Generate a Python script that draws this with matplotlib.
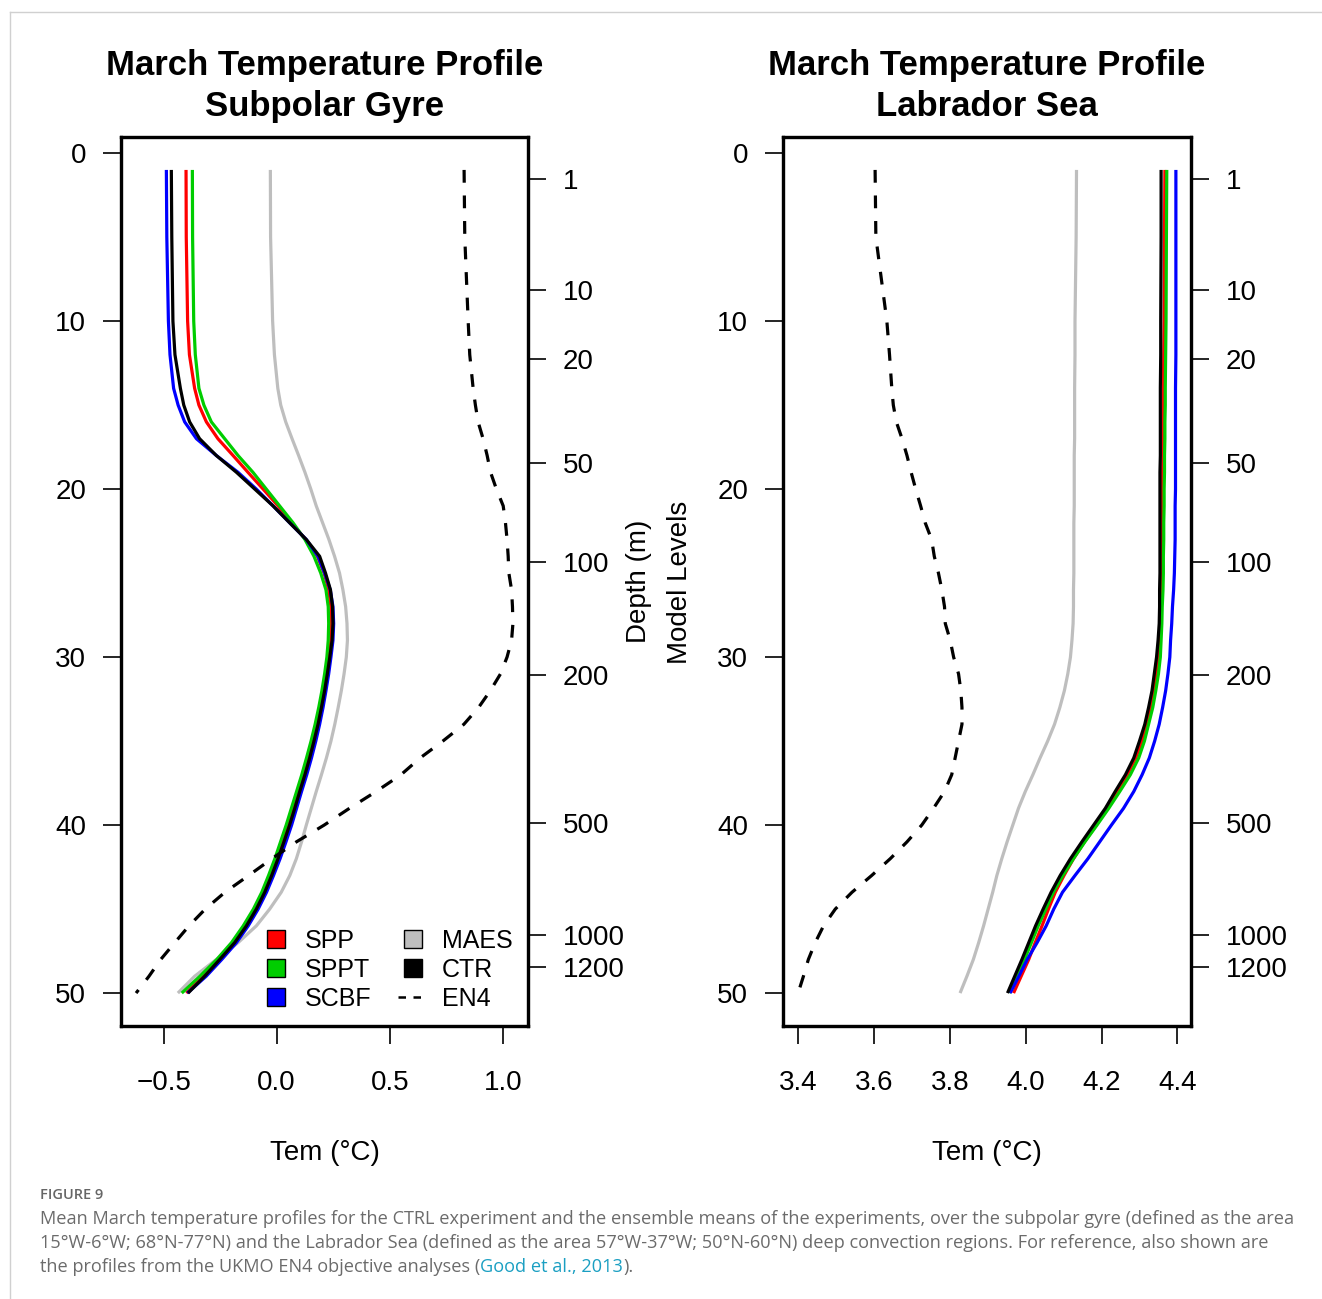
import matplotlib
matplotlib.use('Agg')
import matplotlib.pyplot as plt
from matplotlib.lines import Line2D

plt.rcParams['font.family'] = ['Liberation Sans', 'DejaVu Sans']

# model levels at which the profiles were read
levels = [1, 5, 10, 12, 14, 15, 16, 17, 18, 19, 20, 21, 22, 23, 24, 25, 26, 27, 28, 29,
          30, 31, 32, 33, 34, 35, 36, 37, 38, 39, 40, 41, 42, 43, 44, 45, 46, 47, 48, 49, 50]

# Subpolar gyre (deg C)
spg_spp = [-0.401, -0.400, -0.394, -0.386, -0.363, -0.344, -0.311, -0.260, -0.193, -0.127,
           -0.060, 0.006, 0.065, 0.128, 0.180, 0.210, 0.230, 0.240, 0.243, 0.240,
           0.232, 0.221, 0.208, 0.194, 0.178, 0.160, 0.140, 0.119, 0.096, 0.073,
           0.050, 0.025, 0.000, -0.028, -0.058, -0.095, -0.140, -0.192, -0.258, -0.325, -0.400]
spg_sppt = [-0.373, -0.372, -0.367, -0.360, -0.344, -0.322, -0.289, -0.230, -0.171, -0.105,
            -0.046, 0.013, 0.072, 0.125, 0.165, 0.195, 0.218, 0.228, 0.230, 0.228,
            0.222, 0.212, 0.200, 0.186, 0.170, 0.152, 0.132, 0.111, 0.088, 0.065,
            0.042, 0.017, -0.008, -0.036, -0.066, -0.103, -0.148, -0.200, -0.265, -0.340, -0.420]
spg_scbf = [-0.488, -0.486, -0.479, -0.472, -0.456, -0.436, -0.407, -0.355, -0.267, -0.171,
            -0.090, -0.016, 0.057, 0.131, 0.183, 0.212, 0.237, 0.249, 0.252, 0.249,
            0.240, 0.230, 0.218, 0.205, 0.190, 0.173, 0.154, 0.133, 0.110, 0.088,
            0.066, 0.041, 0.015, -0.014, -0.045, -0.082, -0.126, -0.178, -0.243, -0.312, -0.395]
spg_maes = [-0.028, -0.027, -0.018, -0.010, 0.005, 0.018, 0.040, 0.068, 0.097, 0.125,
            0.151, 0.175, 0.203, 0.231, 0.256, 0.278, 0.293, 0.305, 0.311, 0.313,
            0.308, 0.298, 0.286, 0.272, 0.257, 0.240, 0.220, 0.198, 0.175, 0.153,
            0.131, 0.110, 0.087, 0.058, 0.020, -0.031, -0.090, -0.171, -0.267, -0.363, -0.437]
spg_ctr = [-0.466, -0.464, -0.459, -0.450, -0.426, -0.411, -0.385, -0.341, -0.267, -0.178,
           -0.097, -0.016, 0.057, 0.131, 0.190, 0.216, 0.238, 0.247, 0.249, 0.245,
           0.235, 0.224, 0.212, 0.198, 0.183, 0.165, 0.146, 0.125, 0.102, 0.080,
           0.057, 0.032, 0.006, -0.022, -0.053, -0.090, -0.134, -0.186, -0.252, -0.319, -0.392]
spg_en4 = [0.829, 0.832, 0.847, 0.854, 0.869, 0.879, 0.891, 0.913, 0.931, 0.946,
           0.972, 1.002, 1.012, 1.019, 1.024, 1.027, 1.039, 1.043, 1.045, 1.039,
           1.019, 0.990, 0.945, 0.893, 0.828, 0.735, 0.635, 0.550, 0.440, 0.322,
           0.210, 0.087, -0.021, -0.124, -0.229, -0.316, -0.388, -0.451, -0.513, -0.565, -0.622]

# Labrador Sea (deg C)
lab_spp = [4.367, 4.366, 4.365, 4.364, 4.363, 4.363, 4.362, 4.362, 4.362, 4.361,
           4.361, 4.361, 4.360, 4.360, 4.360, 4.359, 4.358, 4.357, 4.356, 4.353,
           4.350, 4.345, 4.338, 4.330, 4.320, 4.307, 4.290, 4.268, 4.241, 4.215,
           4.186, 4.155, 4.126, 4.101, 4.078, 4.060, 4.043, 4.025, 4.008, 3.988, 3.968]
lab_sppt = [4.372, 4.371, 4.370, 4.369, 4.368, 4.368, 4.367, 4.367, 4.366, 4.366,
            4.365, 4.365, 4.364, 4.364, 4.363, 4.363, 4.362, 4.360, 4.359, 4.357,
            4.355, 4.350, 4.343, 4.335, 4.324, 4.313, 4.298, 4.276, 4.248, 4.219,
            4.188, 4.156, 4.126, 4.098, 4.073, 4.053, 4.033, 4.015, 3.997, 3.977, 3.957]
lab_scbf = [4.396, 4.396, 4.396, 4.396, 4.395, 4.395, 4.395, 4.395, 4.395, 4.395,
            4.395, 4.394, 4.394, 4.394, 4.393, 4.392, 4.390, 4.387, 4.385, 4.382,
            4.380, 4.375, 4.369, 4.361, 4.352, 4.340, 4.326, 4.307, 4.285, 4.258,
            4.226, 4.195, 4.164, 4.130, 4.097, 4.074, 4.054, 4.030, 4.004, 3.982, 3.959]
lab_maes = [4.134, 4.133, 4.130, 4.130, 4.129, 4.129, 4.129, 4.129, 4.128, 4.128,
            4.128, 4.128, 4.127, 4.127, 4.127, 4.127, 4.126, 4.126, 4.125, 4.122,
            4.118, 4.111, 4.102, 4.090, 4.076, 4.058, 4.038, 4.019, 3.999, 3.981,
            3.966, 3.951, 3.937, 3.924, 3.913, 3.901, 3.889, 3.876, 3.862, 3.845, 3.827]
lab_ctr = [4.357, 4.357, 4.356, 4.356, 4.355, 4.355, 4.355, 4.355, 4.355, 4.354,
           4.354, 4.354, 4.354, 4.354, 4.354, 4.354, 4.353, 4.353, 4.352, 4.349,
           4.345, 4.339, 4.333, 4.324, 4.314, 4.300, 4.285, 4.263, 4.236, 4.210,
           4.179, 4.148, 4.118, 4.091, 4.067, 4.046, 4.026, 4.008, 3.990, 3.971, 3.952]
lab_en4 = [3.603, 3.605, 3.634, 3.641, 3.647, 3.651, 3.659, 3.674, 3.687, 3.698,
           3.710, 3.723, 3.735, 3.752, 3.759, 3.770, 3.779, 3.786, 3.788, 3.801,
           3.810, 3.823, 3.829, 3.832, 3.832, 3.823, 3.814, 3.805, 3.786, 3.757,
           3.726, 3.687, 3.643, 3.594, 3.542, 3.498, 3.467, 3.445, 3.427, 3.414, 3.400]

level_ticks = [0, 10, 20, 30, 40, 50]
depth_levels = [1.54, 8.14, 12.24, 18.42, 24.33, 31.07, 39.9, 46.55, 48.47]
depth_labels = ['1', '10', '20', '50', '100', '200', '500', '1000', '1200']
spg_xticks = [-0.5, 0.0, 0.5, 1.0]
lab_xticks = [3.4, 3.6, 3.8, 4.0, 4.2, 4.4]

names = ['MAES', 'SPP', 'SPPT', 'SCBF', 'CTR']
colors = {'SPP': '#ff0000', 'SPPT': '#00cd00', 'SCBF': '#0000ff', 'MAES': '#bebebe', 'CTR': '#000000'}

fig = plt.figure(figsize=(13.22, 12.99), dpi=100)

# page border of the screenshot
fig.add_artist(Line2D([10 / 1322, 1], [1 - 12 / 1299, 1 - 12 / 1299], color='#d0d0d0', lw=1))
fig.add_artist(Line2D([10 / 1322, 10 / 1322], [0, 1 - 12 / 1299], color='#d0d0d0', lw=1))


def fmt(v):
    return f'{v:.1f}'.replace('-', '\u2212')


def panel(rect, profiles, en4, title, xticks):
    ax = fig.add_axes(rect)
    for n in names:
        ax.plot(profiles[n], levels, color=colors[n], lw=2.3, solid_capstyle='butt')
    ax.plot(en4, levels, color='black', lw=2.3, dashes=(4, 4), dash_capstyle='butt')
    ax.margins(x=0.04, y=0.04)
    ax.invert_yaxis()
    ax.set_yticks(level_ticks)
    ax.set_xticks(xticks)
    ax.set_xticklabels([fmt(v) for v in xticks])
    ax.tick_params(axis='both', direction='out', length=13, width=1.2, labelsize=20)
    ax.tick_params(axis='x', pad=19)
    ax.tick_params(axis='y', pad=12)
    ax.set_xlabel('Tem (°C)', fontsize=20, labelpad=31)
    ax.set_title(title, fontsize=25, fontweight='bold', pad=15, linespacing=1.3)
    ax2 = ax.twinx()
    ax2.set_ylim(ax.get_ylim())
    ax2.set_yticks(depth_levels)
    ax2.set_yticklabels(depth_labels)
    ax2.tick_params(axis='y', direction='out', length=13, width=1.2, labelsize=20, pad=12)
    for a in (ax, ax2):
        for s in a.spines.values():
            s.set_linewidth(2.3)
    return ax


ax1 = panel([121 / 1322, 1 - 1026 / 1299, 407 / 1322, 889 / 1299],
            {'SPP': spg_spp, 'SPPT': spg_sppt, 'SCBF': spg_scbf, 'MAES': spg_maes, 'CTR': spg_ctr},
            spg_en4, 'March Temperature Profile\nSubpolar Gyre', spg_xticks)
ax2 = panel([783 / 1322, 1 - 1026 / 1299, 408 / 1322, 889 / 1299],
            {'SPP': lab_spp, 'SPPT': lab_sppt, 'SCBF': lab_scbf, 'MAES': lab_maes, 'CTR': lab_ctr},
            lab_en4, 'March Temperature Profile\nLabrador Sea', lab_xticks)

# legend in the subpolar gyre panel
def sq(c):
    return Line2D([], [], ls='none', marker='s', ms=12.5, mfc=c, mec='black', mew=1.0)

handles = [sq(colors['SPP']), sq(colors['SPPT']), sq(colors['SCBF']),
           sq(colors['MAES']), sq(colors['CTR']),
           Line2D([], [], color='black', lw=1.8, dashes=(3, 3))]
labels = ['SPP', 'SPPT', 'SCBF', 'MAES', 'CTR', 'EN4']
ax1.legend(handles, labels, ncol=2, loc='lower right', bbox_to_anchor=(0.962, 0.017),
           frameon=False, fontsize=18, handlelength=1.2, handletextpad=0.55,
           columnspacing=1.05, labelspacing=0.2, borderpad=0, borderaxespad=0)

fig.text(639 / 1322, 1 - 581 / 1299, 'Depth (m)', rotation=90, ha='center', va='center', fontsize=20)
fig.text(680 / 1322, 1 - 582 / 1299, 'Model Levels', rotation=90, ha='center', va='center', fontsize=20)

# caption
cap = ['Mean March temperature profiles for the CTRL experiment and the ensemble means of the experiments, over the subpolar gyre (defined as the area',
       '15°W-6°W; 68°N-77°N) and the Labrador Sea (defined as the area 57°W-37°W; 50°N-60°N) deep convection regions. For reference, also shown are']
cap_color = '#6b6b6b'
cap_size = 13.1
fig.text(40 / 1322, 1 - 1195 / 1299, 'FIGURE 9', fontsize=10.5, color='#666666',
         family='Open Sans', fontweight='semibold', va='center')
for i, line in enumerate(cap):
    fig.text(40 / 1322, 1 - (1219 + 24 * i) / 1299, line, fontsize=cap_size, color=cap_color,
             family='Open Sans', va='center')

renderer = fig.canvas.get_renderer()
x0 = 40 / 1322
y3 = 1 - 1267 / 1299
for piece, col in [('the profiles from the UKMO EN4 objective analyses (', cap_color),
                   ('Good et al., 2013', '#1a9fc2'), (').', cap_color)]:
    t = fig.text(x0, y3, piece, fontsize=cap_size, color=col, family='Open Sans', va='center')
    bb = t.get_window_extent(renderer)
    x0 = bb.x1 / fig.bbox.width

fig.savefig('out.png', dpi=100)
